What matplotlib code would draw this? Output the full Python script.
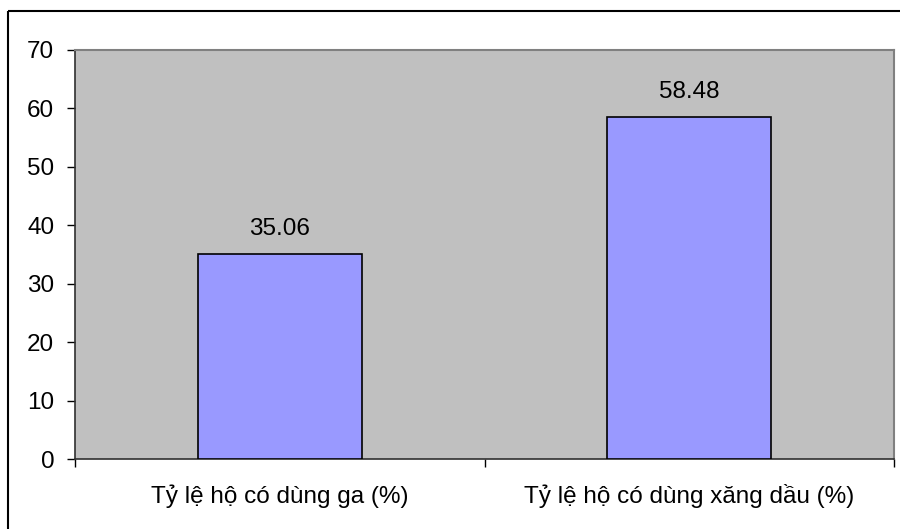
import matplotlib.pyplot as plt
from matplotlib.lines import Line2D

categories = ["Tỷ lệ hộ có dùng ga (%)", "Tỷ lệ hộ có dùng xăng dầu (%)"]
values = [35.06, 58.48]
yticks = [0, 10, 20, 30, 40, 50, 60, 70]

plt.rcParams['font.family'] = ['Liberation Sans', 'DejaVu Sans']
fs = 17.5

fig = plt.figure(figsize=(9, 5.29), dpi=100)
ax = fig.add_axes([75/900, 1 - 459/529, (894 - 75)/900, (459 - 50)/529])

pos = [i + 0.5 for i in range(len(values))]
ax.bar(pos, values, width=0.4, color='#9999FF', edgecolor='black', linewidth=1.2, zorder=3)

for x, v in zip(pos, values):
    ax.annotate(f"{v:.2f}", (x, v), xytext=(0, 10), textcoords='offset points',
                ha='center', va='bottom', fontsize=fs)

ax.set_facecolor('#C0C0C0')
ax.set_xlim(0, len(values))
ax.set_ylim(0, 70)
ax.set_yticks(yticks)
ax.tick_params(axis='y', direction='out', length=6, width=1, labelsize=fs, pad=9)

# ticks at category boundaries, labels in the middle
ax.set_xticks(range(len(values) + 1))
ax.set_xticklabels([])
ax.set_xticks(pos, minor=True)
ax.set_xticklabels(categories, minor=True)
ax.tick_params(axis='x', which='major', direction='out', length=6, width=1)
ax.tick_params(axis='x', which='minor', length=0, labelsize=fs, pad=18)

for s in ['left', 'bottom']:
    ax.spines[s].set_color('#303030')
    ax.spines[s].set_linewidth(1.2)
for s in ['top', 'right']:
    ax.spines[s].set_color('#808080')
    ax.spines[s].set_linewidth(1.5)

# outer frame lines
fig.add_artist(Line2D([8/900, 8/900], [-0.01, 1 - 11/529], color='black', lw=1.5,
                      solid_capstyle='butt'))
fig.add_artist(Line2D([8/900, 1.01], [1 - 11/529, 1 - 11/529], color='black', lw=1.5,
                      solid_capstyle='butt'))

fig.savefig('out.png', dpi=100)
